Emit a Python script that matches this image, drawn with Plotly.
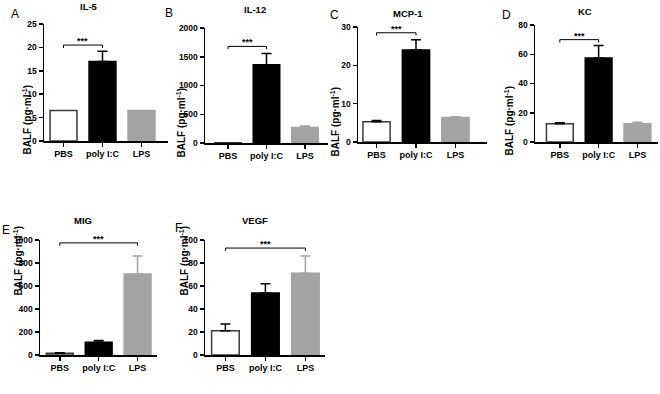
import plotly.graph_objects as go

W, H = 660, 394

groups = ["PBS", "poly I:C", "LPS"]
panels = ["A", "B", "C", "D", "E", "F"]
titles = ["IL-5", "IL-12", "MCP-1", "KC", "MIG", "VEGF"]

il5_mean = [6.5, 17.0, 6.5]
il5_err = [0.0, 2.2, 0.0]
il12_mean = [5, 1360, 270]
il12_err = [0, 195, 25]
mcp1_mean = [5.3, 24.0, 6.4]
mcp1_err = [0.3, 2.7, 0.2]
kc_mean = [12.5, 57.5, 12.5]
kc_err = [0.6, 8.5, 1.0]
mig_mean = [15, 110, 705]
mig_err = [5, 15, 155]
vegf_mean = [21, 54, 71]
vegf_err = [6, 8, 15]

means = [il5_mean, il12_mean, mcp1_mean, kc_mean, mig_mean, vegf_mean]
errs = [il5_err, il12_err, mcp1_err, kc_err, mig_err, vegf_err]
y_max = [25, 2000, 30, 80, 1000, 100]
y_dtick = [5, 500, 10, 20, 200, 20]
# significance: (group i, group j, bracket level, label)
sig = [(0, 1, 20.5, "***"), (0, 1, 1680, "***"), (0, 1, 28.5, "***"),
       (0, 1, 70, "***"), (0, 2, 975, "***"), (0, 2, 93, "***")]

fills = ["white", "black", "#a3a3a3"]
edges = ["#3a3a3a", "black", "#a3a3a3"]

# layout geometry in pixels: (axis left, axis right, top, bottom)
geom = [(44, 168, 24, 141), (205, 328, 28, 143), (358, 487, 27, 142),
        (535, 658, 25, 142), (40, 157, 240, 355), (205, 325, 240, 355)]
xrng = [(-0.5, 2.68), (-0.6, 2.6), (-0.47, 2.8), (-0.64, 2.53), (-0.51, 2.5), (-0.51, 2.49)]
letter_pos = [(15, 14), (169, 13), (334, 15), (506, 15), (6, 230), (178, 228)]
title_pos = [(89, 6), (255, 10), (408, 14), (585, 12), (83, 221), (255, 220)]
ytitle_x = [18, 172, 334, 517, 9, 175]

FONT = "Liberation Sans"
fig = go.Figure()
layout = dict(template="none", width=W, height=H, margin=dict(l=0, r=0, t=0, b=0, autoexpand=False),
              paper_bgcolor="white", plot_bgcolor="white", showlegend=False,
              bargap=0.31, font=dict(family=FONT, color="black"))
annotations = []
shapes = []

for p in range(6):
    ax = "" if p == 0 else str(p + 1)
    xa, ya = "x" + ax, "y" + ax
    l, r, t, b = geom[p]
    for g in range(3):
        fig.add_trace(go.Bar(
            x=[g], y=[means[p][g]], xaxis=xa, yaxis=ya, width=0.69,
            marker=dict(color=fills[g], line=dict(color=edges[g], width=1.5)),
            error_y=dict(type="data", array=[errs[p][g]], arrayminus=[0], symmetric=False,
                         visible=errs[p][g] > 0, color=edges[g] if g != 0 else "black",
                         thickness=1.5, width=5)))
    layout["xaxis" + ax] = dict(domain=[l / W, r / W], anchor=ya, range=list(xrng[p]),
                                automargin=False, type="linear",
                                tickmode="array", tickvals=[0, 1, 2], ticktext=groups,
                                tickangle=0,
                                showline=True, linecolor="black", linewidth=1.5,
                                ticks="outside", ticklen=4, tickwidth=1.5, tickcolor="black",
                                showgrid=False, zeroline=False, fixedrange=True,
                                tickfont=dict(family=FONT, size=9, weight="bold"))
    layout["yaxis" + ax] = dict(domain=[1 - b / H, 1 - t / H], anchor=xa,
                                automargin=False, fixedrange=True,
                                range=[0, y_max[p]], dtick=y_dtick[p],
                                showline=True, linecolor="black", linewidth=1.5,
                                ticks="outside", ticklen=4, tickwidth=1.5, tickcolor="black",
                                showgrid=False, zeroline=False,
                                tickfont=dict(family=FONT, size=8.5, weight="bold"))
    annotations.append(dict(text="BALF (pg·ml<sup>-1</sup>)", xref="paper", yref="paper",
                            x=ytitle_x[p] / W, y=1 - ((t + b) / 2) / H, textangle=-90,
                            showarrow=False, font=dict(family=FONT, size=10, weight="bold")))
    annotations.append(dict(text=titles[p], xref="paper", yref="paper",
                            x=title_pos[p][0] / W, y=1 - title_pos[p][1] / H,
                            xanchor="center", yanchor="middle",
                            showarrow=False, font=dict(family=FONT, size=9.5, weight="bold")))
    annotations.append(dict(text=panels[p], xref="paper", yref="paper",
                            x=letter_pos[p][0] / W, y=1 - letter_pos[p][1] / H,
                            xanchor="center", yanchor="middle",
                            showarrow=False, font=dict(family=FONT, size=12)))
    i, j, lev, lab = sig[p]
    tick = y_max[p] * 0.025
    shapes.append(dict(type="path", xref=xa, yref=ya,
                       path=f"M {i} {lev - tick} L {i} {lev} L {j} {lev} L {j} {lev - tick}",
                       line=dict(color="black", width=1)))
    annotations.append(dict(text=lab, xref=xa, yref=ya, x=(i + j) / 2, y=lev,
                            yanchor="bottom", showarrow=False, yshift=-3,
                            font=dict(family=FONT, size=9, weight="bold")))

layout["annotations"] = annotations
layout["shapes"] = shapes
fig.update_layout(**layout)
fig.write_html("out.html", config={"displayModeBar": False, "staticPlot": True},
               post_script="document.body.style.margin='0';document.body.style.overflow='hidden';")
